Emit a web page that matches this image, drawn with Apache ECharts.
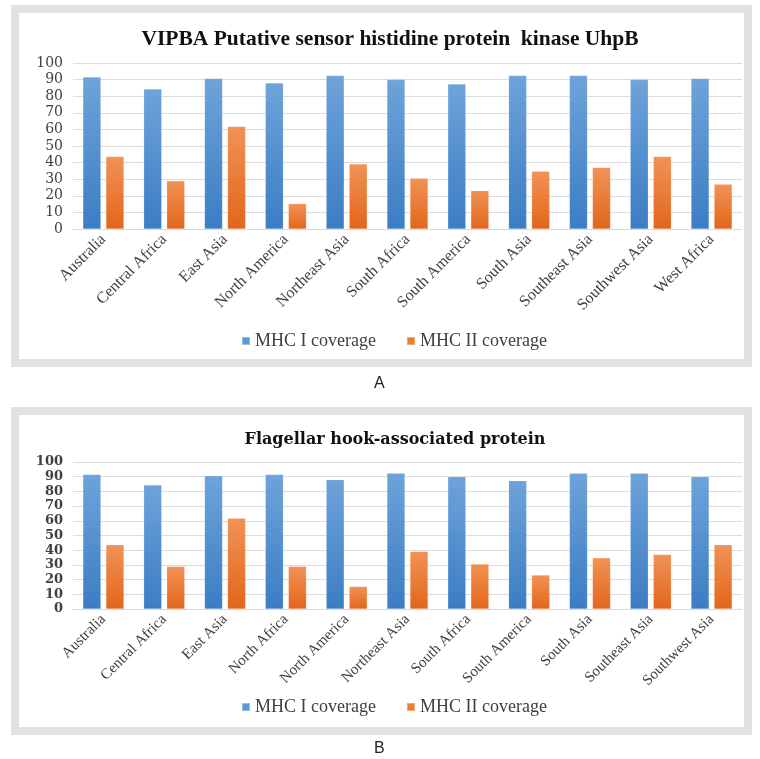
<!DOCTYPE html>
<html>
<head>
<meta charset="utf-8">
<script src="https://cdn.jsdelivr.net/npm/echarts@6/dist/echarts.min.js"></script>
<style>
html,body{margin:0;padding:0;background:#fff;}
#c{width:760px;height:759px;}
</style>
</head>
<body>
<div id="c"></div>
<script>
var titleA = 'VIPBA Putative sensor histidine protein  kinase UhpB';
var titleB = 'Flagellar hook-associated protein';
var seriesNames = ['MHC I coverage', 'MHC II coverage'];
var yTicks = [0, 10, 20, 30, 40, 50, 60, 70, 80, 90, 100];

var categoriesA = ['Australia','Central Africa','East Asia','North America','Northeast Asia','South Africa','South America','South Asia','Southeast Asia','Southwest Asia','West Africa'];
var mhc1A = [91.5, 84.3, 90.7, 88, 92.4, 90, 87.3, 92.4, 92.4, 90, 90.7];
var mhc2A = [43.7, 29, 61.8, 15.3, 39.2, 30.6, 23.1, 34.8, 37, 43.7, 27];

var categoriesB = ['Australia','Central Africa','East Asia','North Africa','North America','Northeast Asia','South Africa','South America','South Asia','Southeast Asia','Southwest Asia'];
var mhc1B = [91.5, 84.3, 90.7, 91.5, 88, 92.4, 90, 87.3, 92.4, 92.4, 90];
var mhc2B = [43.7, 29, 61.8, 29, 15.3, 39.2, 30.6, 23.1, 34.8, 37, 43.7];

var chart = echarts.init(document.getElementById('c'), null, {renderer: 'canvas'});

function grad(top, bottom) {
  return new echarts.graphic.LinearGradient(0, 0, 0, 1, [
    {offset: 0, color: top}, {offset: 1, color: bottom}
  ]);
}
var blueFill = grad('#6ea3da', '#3b7dc4');
var orangeFill = grad('#f19256', '#e2661a');

function xAxisFor(idx, cats, fs) {
  return {
    type: 'category', gridIndex: idx, data: cats,
    axisLine: {lineStyle: {color: '#d9d9d9', width: 1}},
    axisTick: {show: false},
    axisLabel: {rotate: 45, interval: 0, fontFamily: 'Liberation Serif', fontSize: fs, color: '#404040', margin: 8}
  };
}
function yAxisFor(idx, fs, fw) {
  return {
    type: 'value', gridIndex: idx, min: yTicks[0], max: yTicks[yTicks.length - 1], interval: 10,
    axisLine: {show: false}, axisTick: {show: false},
    splitLine: {lineStyle: {color: '#dcdcdc', width: 1}},
    axisLabel: {fontFamily: 'DejaVu Serif', fontSize: fs, fontWeight: fw, color: '#404040', margin: 10}
  };
}
function barSeries(name, data, idx, fill) {
  return {
    name: name, type: 'bar', xAxisIndex: idx, yAxisIndex: idx, data: data,
    barWidth: 18, barGap: '28%',
    itemStyle: {color: fill, borderColor: 'rgba(255,255,255,0.35)', borderWidth: 0.5},
    emphasis: {disabled: true}
  };
}
var legendData = [
  {name: seriesNames[0], itemStyle: {color: '#5b9bd5'}},
  {name: seriesNames[1], itemStyle: {color: '#ed7d31'}}
];
function legendAt(top) {
  return {
    top: top, left: 236,
    data: legendData, icon: 'rect', itemWidth: 8, itemHeight: 8, itemGap: 30,
    textStyle: {fontFamily: 'Liberation Serif', fontSize: 18, color: '#404040'},
    selectedMode: false
  };
}

var option = {
  backgroundColor: '#ffffff',
  animation: false,
  graphic: [
    {type: 'rect', z: -10, shape: {x: 15, y: 9, width: 733, height: 354},
     style: {fill: '#ffffff', stroke: '#e3e0e0', lineWidth: 8}},
    {type: 'rect', z: -10, shape: {x: 15, y: 411, width: 733, height: 320},
     style: {fill: '#ffffff', stroke: '#e3e0e0', lineWidth: 8}},
    {type: 'text', left: 374, top: 376, style: {text: 'A', font: '16px "Liberation Sans"', fill: '#222'}},
    {type: 'text', left: 374, top: 741, style: {text: 'B', font: '16px "Liberation Sans"', fill: '#222'}}
  ],
  title: [
    {text: titleA, left: 385, top: 23, textAlign: 'center',
     textStyle: {fontFamily: 'Liberation Serif', fontSize: 21.5, fontWeight: 'bold', color: '#111'}},
    {text: titleB, left: 390, top: 427, textAlign: 'center',
     textStyle: {fontFamily: 'DejaVu Serif', fontSize: 16, fontWeight: 'bold', color: '#111'}}
  ],
  legend: [legendAt(327), legendAt(693)],
  grid: [
    {left: 73, right: 18, top: 63, height: 166},
    {left: 73, right: 18, top: 462, height: 147}
  ],
  xAxis: [xAxisFor(0, categoriesA, 16), xAxisFor(1, categoriesB, 15)],
  yAxis: [yAxisFor(0, 14, 'normal'), yAxisFor(1, 13, 'bold')],
  series: [
    barSeries(seriesNames[0], mhc1A, 0, blueFill),
    barSeries(seriesNames[1], mhc2A, 0, orangeFill),
    barSeries(seriesNames[0], mhc1B, 1, blueFill),
    barSeries(seriesNames[1], mhc2B, 1, orangeFill)
  ]
};
chart.setOption(option);
</script>
</body>
</html>
